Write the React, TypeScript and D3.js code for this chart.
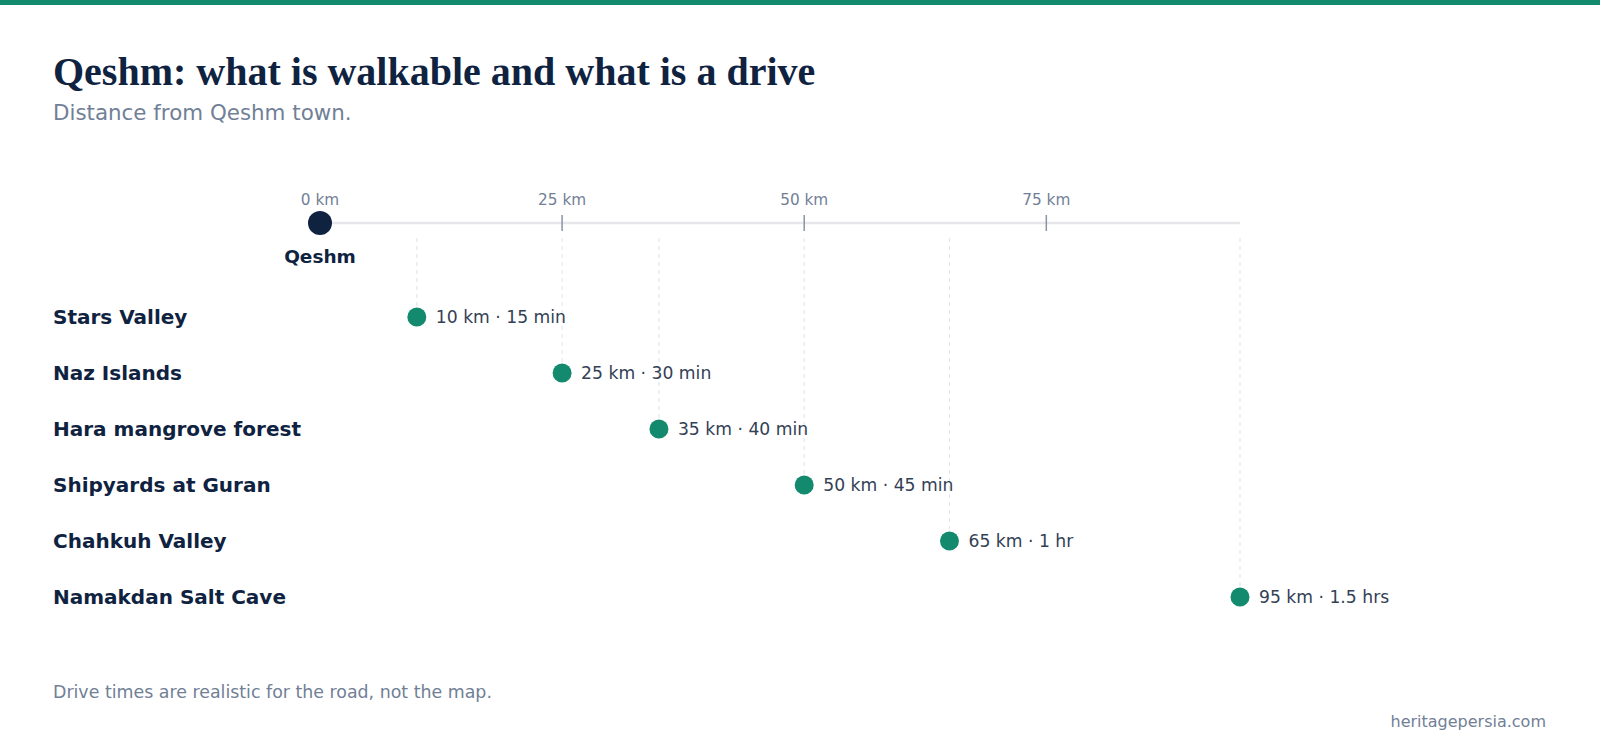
import * as d3 from "d3";
import React from "react";

// destinations, distance from Qeshm town
const places = ["Stars Valley", "Naz Islands", "Hara mangrove forest", "Shipyards at Guran", "Chahkuh Valley", "Namakdan Salt Cave"];
const distKm = [10, 25, 35, 50, 65, 95];
const driveTimes = ["15 min", "30 min", "40 min", "45 min", "1 hr", "1.5 hrs"];
const axisTicks = [0, 25, 50, 75];

const W = 1600, H = 749;
const navy = "#0f2341", teal = "#138a6e", grey = "#718096";
const font = "'DejaVu Sans', sans-serif";

const App: React.FC = () => {
    const x = d3.scaleLinear().domain([0, 95]).range([320, 1240]);
    const y = d3.scalePoint<string>().domain(places).range([317, 597]);
    const axisY = 223;
    return (
        <svg width={W} height={H} viewBox={`0 0 ${W} ${H}`} style={{ position: "absolute", left: 0, top: 0, background: "#fff" }} fontFamily={font}>
            <rect x={0} y={0} width={W} height={5} fill={teal} />
            <text x={53} y={85} fontFamily="'Liberation Serif', 'Times New Roman', serif" fontWeight="bold" fontSize={40} fill={navy}>Qeshm: what is walkable and what is a drive</text>
            <text x={53} y={120} fontSize={21.4} fill={grey}>Distance from Qeshm town.</text>

            {/* dashed guides from axis down to each stop */}
            {distKm.map((d, i) => (
                <line key={"g" + i} x1={x(d)} x2={x(d)} y1={238} y2={y(places[i])!} stroke="#e2e8f0" strokeWidth={1.2} strokeDasharray="4,4" />
            ))}

            <line x1={x(0)} x2={x(95)} y1={axisY} y2={axisY} stroke="#e5e7eb" strokeWidth={2.5} />
            {axisTicks.map(t => (
                <g key={t}>
                    {t > 0 && <line x1={x(t)} x2={x(t)} y1={axisY - 8} y2={axisY + 8} stroke="#8a94a6" strokeWidth={1.5} />}
                    <text x={x(t)} y={205} textAnchor="middle" fontSize={15.3} fill={grey}>{t} km</text>
                </g>
            ))}
            <circle cx={x(0)} cy={axisY} r={12} fill={navy} />
            <text x={x(0)} y={263} textAnchor="middle" fontSize={18.5} fontWeight="bold" fill={navy}>Qeshm</text>

            {places.map((p, i) => (
                <g key={p} transform={`translate(0,${y(p)})`}>
                    <text x={53} y={0} dy="0.35em" fontSize={20} fontWeight="bold" fill={navy}>{p}</text>
                    <circle cx={x(distKm[i])} cy={0} r={9.5} fill={teal} />
                    <text x={x(distKm[i]) + 19} y={0} dy="0.35em" fontSize={17.2} fill="#334155">{distKm[i]} km · {driveTimes[i]}</text>
                </g>
            ))}

            <text x={53} y={698} fontSize={17.4} fill={grey}>Drive times are realistic for the road, not the map.</text>
            <text x={1546} y={727} textAnchor="end" fontSize={16} fill={grey}>heritagepersia.com</text>
        </svg>
    );
};

export default App;
